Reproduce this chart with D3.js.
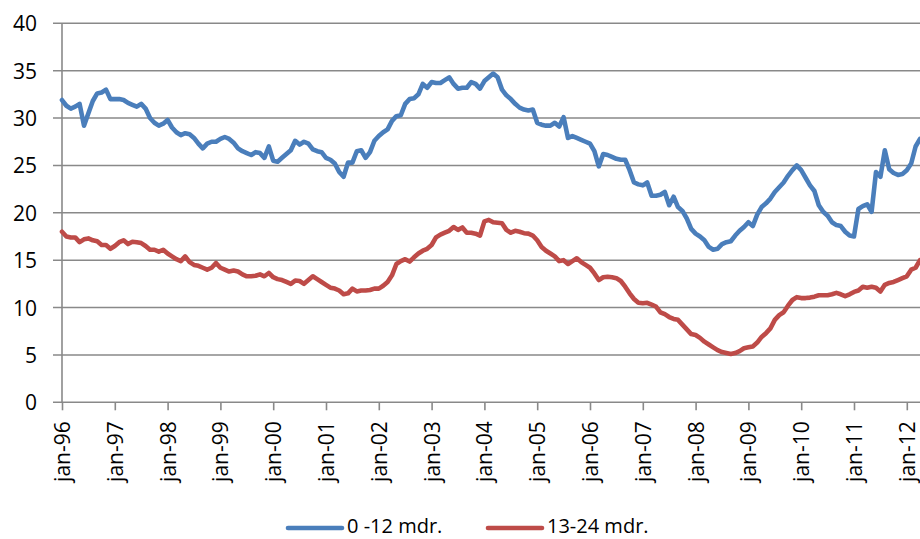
<!DOCTYPE html>
<html>
<head>
<meta charset="utf-8">
<script src="https://cdnjs.cloudflare.com/ajax/libs/d3/7.8.5/d3.min.js"></script>
<style>
  body { margin: 0; background: #fff; }
  text { font-family: "Open Sans", "Noto Sans", sans-serif; fill: #000; }
</style>
</head>
<body>
<svg width="920" height="539"></svg>
<script>
window.onload = function() {

// tick labels on the category axis (one each january)
var tickLabels = ["jan-96", "jan-97", "jan-98", "jan-99", "jan-00", "jan-01", "jan-02", "jan-03",
    "jan-04", "jan-05", "jan-06", "jan-07", "jan-08", "jan-09", "jan-10", "jan-11", "jan-12"];

var seriesNames = ["0 -12 mdr.", "13-24 mdr."];

// monthly values, jan-96 .. apr-12
var shortTerm = [
    31.9, 31.3, 31.0, 31.2, 31.5, 29.2, 30.5, 31.8, 32.6, 32.7, 33.0, 32.0,
    32.0, 32.0, 31.9, 31.6, 31.4, 31.2, 31.5, 31.0, 30.0, 29.5, 29.2, 29.4,
    29.8, 29.0, 28.5, 28.2, 28.4, 28.3, 27.9, 27.3, 26.8, 27.3, 27.5, 27.5,
    27.8, 28.0, 27.8, 27.4, 26.8, 26.5, 26.3, 26.1, 26.4, 26.3, 25.8, 27.0,
    25.5, 25.4, 25.8, 26.2, 26.6, 27.6, 27.2, 27.5, 27.3, 26.7, 26.5, 26.4,
    25.8, 25.6, 25.2, 24.3, 23.8, 25.3, 25.3, 26.5, 26.6, 25.8, 26.4, 27.6,
    28.1, 28.5, 28.8, 29.7, 30.2, 30.3, 31.5, 32.0, 32.1, 32.5, 33.6, 33.2,
    33.8, 33.7, 33.7, 34.0, 34.3, 33.6, 33.1, 33.2, 33.2, 33.8, 33.6, 33.1,
    33.9, 34.3, 34.7, 34.3, 33.0, 32.4, 32.0, 31.5, 31.1, 30.9, 30.8, 30.9,
    29.5, 29.3, 29.2, 29.2, 29.5, 29.1, 30.1, 27.9, 28.1, 27.9, 27.7, 27.5,
    27.3, 26.5, 24.9, 26.2, 26.1, 25.9, 25.7, 25.6, 25.6, 24.5, 23.2, 23.0,
    22.9, 23.2, 21.8, 21.8, 21.9, 22.2, 20.8, 21.7, 20.6, 20.2, 19.4, 18.3,
    17.8, 17.5, 17.1, 16.4, 16.1, 16.2, 16.7, 16.9, 17.0, 17.6, 18.1, 18.5,
    19.0, 18.6, 19.8, 20.6, 21.0, 21.5, 22.2, 22.7, 23.2, 23.9, 24.5, 25.0,
    24.5, 23.7, 22.9, 22.3, 20.8, 20.1, 19.7, 19.0, 18.7, 18.6, 18.0, 17.6,
    17.5, 20.4, 20.7, 20.9, 20.1, 24.3, 23.8, 26.6, 24.6, 24.2, 24.0, 24.1,
    24.5, 25.2, 27.0, 27.8
];

var longTerm = [
    18.0, 17.5, 17.4, 17.4, 16.9, 17.2, 17.3, 17.1, 17.0, 16.6, 16.6, 16.2,
    16.5, 16.9, 17.1, 16.7, 16.95, 16.9, 16.8, 16.5, 16.1, 16.1, 15.9, 16.1,
    15.7, 15.4, 15.1, 14.9, 15.4, 14.8, 14.5, 14.4, 14.2, 14.0, 14.2, 14.7,
    14.2, 14.0, 13.8, 13.9, 13.8, 13.5, 13.3, 13.3, 13.35, 13.5, 13.3, 13.65,
    13.2, 13.0, 12.9, 12.7, 12.5, 12.85, 12.8, 12.5, 12.9, 13.3, 13.0, 12.7,
    12.4, 12.1, 12.0, 11.8, 11.4, 11.5, 12.0, 11.7, 11.8, 11.8, 11.85, 12.0,
    12.0, 12.3, 12.7, 13.4, 14.6, 14.9, 15.1, 14.85, 15.3, 15.7, 16.0, 16.2,
    16.6, 17.4, 17.7, 17.9, 18.1, 18.5, 18.2, 18.45, 17.9, 17.9, 17.8, 17.6,
    19.1, 19.25, 19.0, 18.95, 18.9, 18.2, 17.9, 18.1, 18.0, 17.85, 17.8, 17.6,
    17.1, 16.4, 16.0, 15.7, 15.4, 14.9, 15.0, 14.6, 14.9, 15.2, 14.8, 14.5,
    14.2, 13.6, 12.9, 13.2, 13.25, 13.2, 13.1, 12.8, 12.2, 11.5, 10.9, 10.5,
    10.45, 10.5, 10.3, 10.1, 9.5, 9.3, 9.0, 8.8, 8.7, 8.2, 7.7, 7.2,
    7.1, 6.8, 6.4, 6.1, 5.8, 5.5, 5.3, 5.2, 5.1, 5.2, 5.4, 5.7,
    5.8, 5.9, 6.3, 6.9, 7.3, 7.8, 8.7, 9.2, 9.5, 10.2, 10.8, 11.1,
    11.0, 11.0, 11.05, 11.15, 11.3, 11.3, 11.3, 11.4, 11.55, 11.4, 11.2, 11.4,
    11.65, 11.8, 12.2, 12.1, 12.2, 12.1, 11.7, 12.4, 12.6, 12.7, 12.9, 13.1,
    13.3, 14.0, 14.2, 15.0
];

var yTicks = [0, 5, 10, 15, 20, 25, 30, 35, 40];

var svg = d3.select("svg");
var left = 62, right = 920, top = 23.3, bottom = 402.3;
var gridColor = "#898989";
var colors = ["#4a7ebb", "#be4b48"];

var x = d3.scaleLinear().domain([0, shortTerm.length - 1]).range([left, right]);
var y = d3.scaleLinear().domain([0, 40]).range([bottom, top]);

// gridlines
svg.append("g")
    .selectAll("line")
    .data(yTicks)
    .enter().append("line")
    .attr("x1", left - 9)
    .attr("x2", right)
    .attr("y1", function(d) { return y(d); })
    .attr("y2", function(d) { return y(d); })
    .attr("stroke", gridColor)
    .attr("stroke-width", 1.6);

// y axis labels
var yAxis = d3.axisLeft(y).tickValues(yTicks).tickSize(0).tickPadding(0);
var gy = svg.append("g")
    .attr("transform", "translate(37,0)")
    .call(yAxis);
gy.select(".domain").remove();
gy.selectAll("text")
    .attr("font-size", 21)
    .attr("font-family", "Open Sans")
    .attr("fill", "#000")
    .attr("dy", "0.36em");

// y axis line
svg.append("line")
    .attr("x1", left).attr("x2", left)
    .attr("y1", top).attr("y2", bottom)
    .attr("stroke", gridColor)
    .attr("stroke-width", 1.6);

// x axis: a tick each january
var janIdx = tickLabels.map(function(d, i) { return i * 12; });
var xAxis = d3.axisBottom(x)
    .tickValues(janIdx)
    .tickSize(8)
    .tickFormat(function(d, i) { return tickLabels[i]; });
var gx = svg.append("g")
    .attr("transform", "translate(0," + bottom + ")")
    .call(xAxis);
gx.select(".domain").remove();
gx.selectAll(".tick line").attr("stroke", gridColor).attr("stroke-width", 1.6);
gx.selectAll(".tick text")
    .attr("font-size", 21)
    .attr("font-family", "Open Sans")
    .attr("fill", "#000")
    .attr("text-anchor", "end")
    .attr("transform", "translate(0,19) rotate(-90)")
    .attr("x", 0)
    .attr("y", 0)
    .attr("dy", "0.36em");

// lines
var line = d3.line()
    .x(function(d, i) { return x(i); })
    .y(function(d) { return y(d); });

[shortTerm, longTerm].forEach(function(s, k) {
    svg.append("path")
        .datum(s)
        .attr("fill", "none")
        .attr("stroke", colors[k])
        .attr("stroke-width", 4.6)
        .attr("stroke-linejoin", "round")
        .attr("stroke-linecap", "round")
        .attr("d", line);
});

// legend
var legendX = [288, 488];
var legend = svg.append("g");
seriesNames.forEach(function(name, k) {
    legend.append("line")
        .attr("x1", legendX[k]).attr("x2", legendX[k] + 54)
        .attr("y1", 528).attr("y2", 528)
        .attr("stroke", colors[k])
        .attr("stroke-width", 4.6)
        .attr("stroke-linecap", "round");
    legend.append("text")
        .attr("x", legendX[k] + 59)
        .attr("y", 527)
        .attr("dy", "0.32em")
        .attr("font-size", 20)
        .text(name);
});

}
</script>
</body>
</html>
